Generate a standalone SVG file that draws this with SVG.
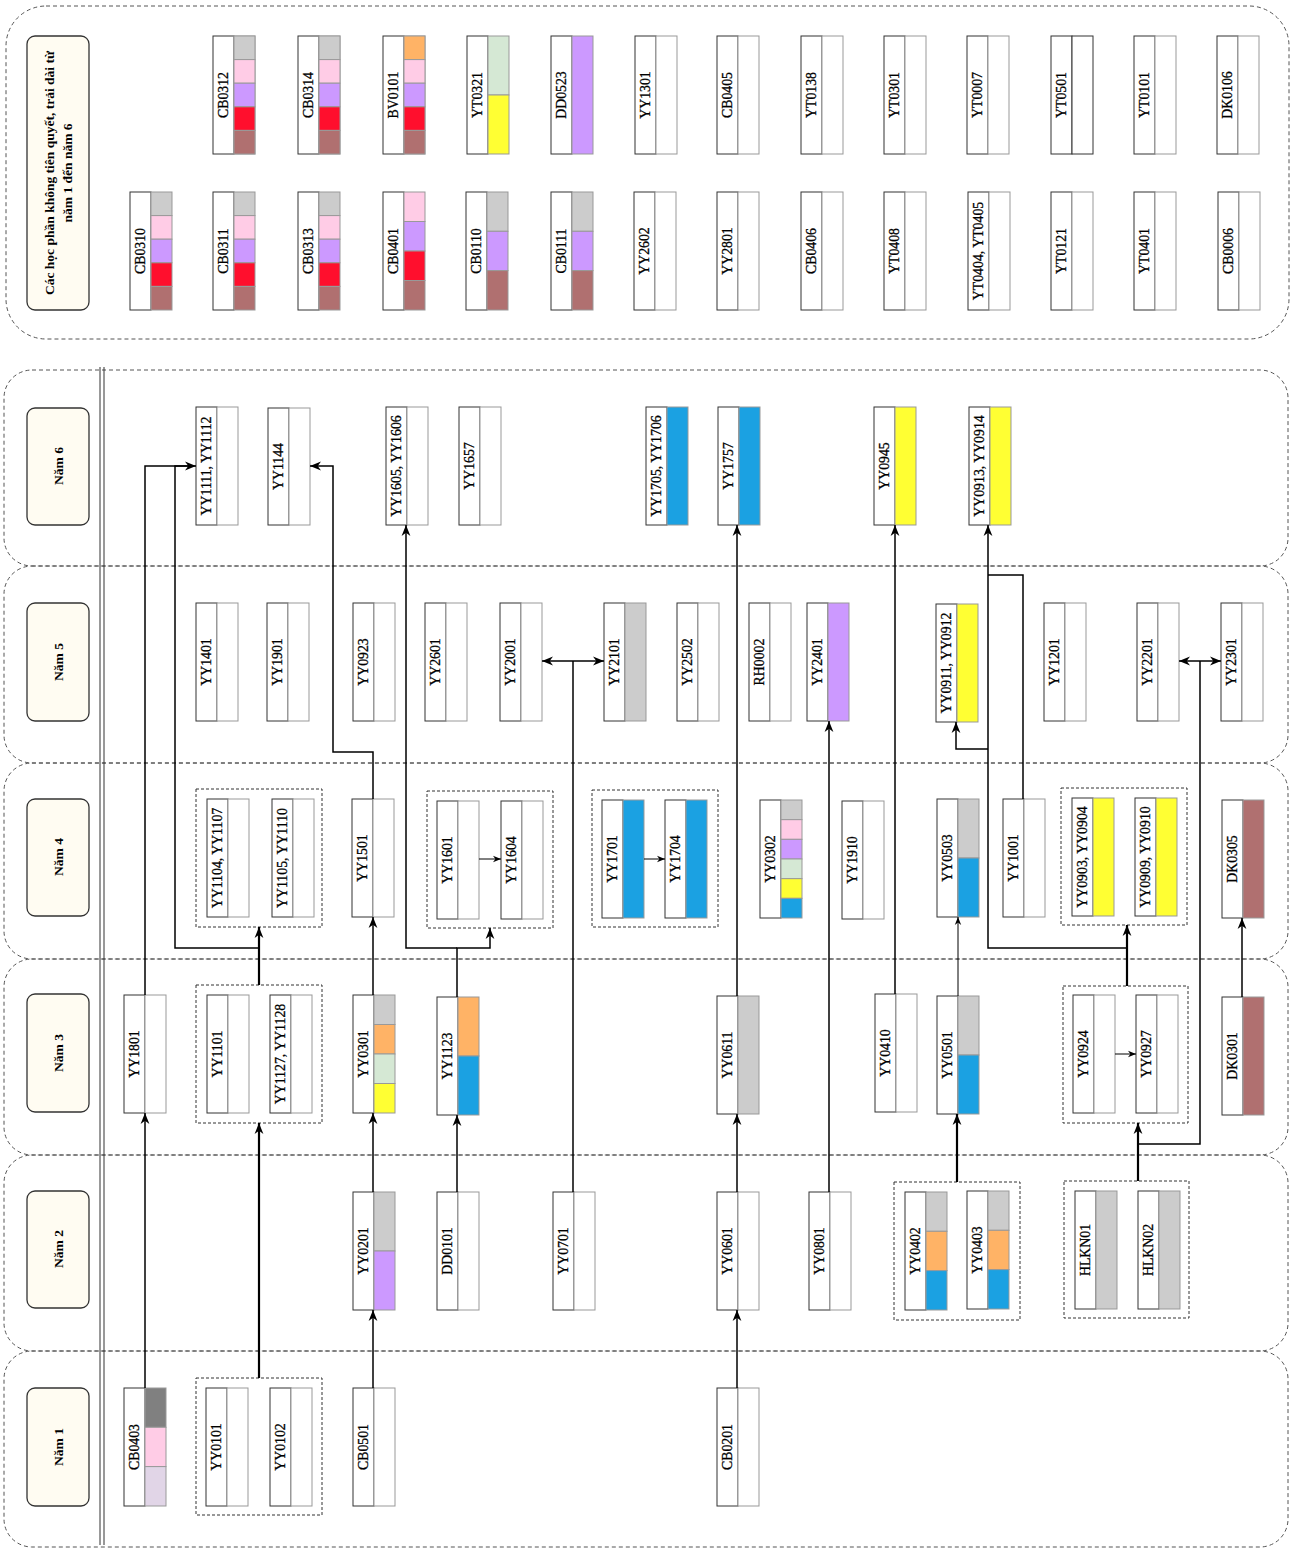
<svg xmlns="http://www.w3.org/2000/svg" width="1296" height="1552" viewBox="0 0 1296 1552">
<style>
.band{fill:none;stroke:#555;stroke-width:1;stroke-dasharray:4 3}
.grp{fill:none;stroke:#333;stroke-width:1;stroke-dasharray:3 2}
.lab{fill:#FFFCF2;stroke:#333;stroke-width:1.3}
.lt{font-family:"Liberation Serif",serif;font-size:13.5px;font-weight:bold;text-anchor:middle;dominant-baseline:central;fill:#000}
.L{fill:#fff;stroke:#333;stroke-width:1}
.R{fill:#fff;stroke:#999;stroke-width:1}
.s{stroke:#999;stroke-width:1}
.t{font-family:"Liberation Serif",serif;font-size:13.8px;text-anchor:middle;dominant-baseline:central;fill:#000;stroke:#000;stroke-width:0.3}
.g{fill:#CCCCCC}.p{fill:#FFCCE6}.u{fill:#CC99FF}.r{fill:#FF0F2D}.b{fill:#B07070}.o{fill:#FFB366}.lg{fill:#D5E8D4}.y{fill:#FFFF33}.bl{fill:#1BA1E2}.dg{fill:#808080}.lv{fill:#E1D5E7}
.c{fill:none;stroke:#000;stroke-width:1.5}
.ct{fill:none;stroke:#000;stroke-width:2.2}
.cn{fill:none;stroke:#000;stroke-width:1}
</style>
<defs>
<marker id="a" viewBox="0 0 10 10" refX="10" refY="5" markerWidth="11" markerHeight="11" markerUnits="userSpaceOnUse" orient="auto"><path d="M0,1 L10,5 L0,9 L3,5 z" fill="#000"/></marker>
<marker id="as" viewBox="0 0 10 10" refX="10" refY="5" markerWidth="8" markerHeight="8" markerUnits="userSpaceOnUse" orient="auto"><path d="M0,1 L10,5 L0,9 L3,5 z" fill="#000"/></marker>
</defs>
<rect width="1296" height="1552" fill="#fff"/>

<g id="bands">
<rect class="band" x="6" y="6" width="1283" height="333" rx="40"/>
<rect class="band" x="4" y="370" width="1284" height="196" rx="28"/>
<rect class="band" x="4" y="566" width="1284" height="197" rx="28"/>
<rect class="band" x="4" y="763" width="1284" height="196" rx="28"/>
<rect class="band" x="4" y="959" width="1284" height="196" rx="28"/>
<rect class="band" x="4" y="1155" width="1284" height="196" rx="28"/>
<rect class="band" x="4" y="1351" width="1284" height="196" rx="28"/>
<line x1="100" y1="367" x2="100" y2="1545" stroke="#333" stroke-width="1"/>
<line x1="104" y1="367" x2="104" y2="1545" stroke="#333" stroke-width="1"/>
</g>

<g id="labels">
<g id="lab-top"><rect class="lab" x="27" y="36" width="62" height="274" rx="8"/><text class="lt" transform="translate(58,173) rotate(-90)"><tspan x="0" dy="-9">Các học phần không tiên quyết, trải dài từ</tspan><tspan x="0" dy="18">năm 1 đến năm 6</tspan></text></g>
<g id="lab6"><rect class="lab" x="27" y="408" width="62" height="117" rx="8"/><text class="lt" transform="translate(58,466) rotate(-90)">Năm 6</text></g>
<g id="lab5"><rect class="lab" x="27" y="603" width="62" height="118" rx="8"/><text class="lt" transform="translate(58,662) rotate(-90)">Năm 5</text></g>
<g id="lab4"><rect class="lab" x="27" y="799" width="62" height="117" rx="8"/><text class="lt" transform="translate(58,857) rotate(-90)">Năm 4</text></g>
<g id="lab3"><rect class="lab" x="27" y="994" width="62" height="118" rx="8"/><text class="lt" transform="translate(58,1053) rotate(-90)">Năm 3</text></g>
<g id="lab2"><rect class="lab" x="27" y="1191" width="62" height="117" rx="8"/><text class="lt" transform="translate(58,1249) rotate(-90)">Năm 2</text></g>
<g id="lab1"><rect class="lab" x="27" y="1388" width="62" height="118" rx="8"/><text class="lt" transform="translate(58,1447) rotate(-90)">Năm 1</text></g>
</g>

<g id="groups">
<rect class="grp" x="196" y="789" width="126" height="138"/>
<rect class="grp" x="427" y="791" width="126" height="137"/>
<rect class="grp" x="592" y="790" width="126" height="137"/>
<rect class="grp" x="1061" y="788" width="126" height="137"/>
<rect class="grp" x="196" y="985" width="126" height="138"/>
<rect class="grp" x="1063" y="986" width="125" height="137"/>
<rect class="grp" x="894" y="1182" width="126" height="138"/>
<rect class="grp" x="1064" y="1181" width="125" height="137"/>
<rect class="grp" x="196" y="1378" width="126" height="137"/>
</g>

<g id="nodes">
<!-- top row 1 -->
<g id="CB0312" transform="translate(213,36)"><rect class="L" width="21" height="118"/><rect class="R" x="21" width="21" height="118"/><rect class="s g" x="21" y="0" width="21" height="23.6"/><rect class="s p" x="21" y="23.6" width="21" height="23.6"/><rect class="s u" x="21" y="47.2" width="21" height="23.6"/><rect class="s r" x="21" y="70.8" width="21" height="23.6"/><rect class="s b" x="21" y="94.4" width="21" height="23.6"/><text class="t" transform="translate(10.5,59) rotate(-90)">CB0312</text></g>
<g id="CB0314" transform="translate(298,36)"><rect class="L" width="21" height="118"/><rect class="R" x="21" width="21" height="118"/><rect class="s g" x="21" y="0" width="21" height="23.6"/><rect class="s p" x="21" y="23.6" width="21" height="23.6"/><rect class="s u" x="21" y="47.2" width="21" height="23.6"/><rect class="s r" x="21" y="70.8" width="21" height="23.6"/><rect class="s b" x="21" y="94.4" width="21" height="23.6"/><text class="t" transform="translate(10.5,59) rotate(-90)">CB0314</text></g>
<g id="BV0101" transform="translate(383,36)"><rect class="L" width="21" height="118"/><rect class="R" x="21" width="21" height="118"/><rect class="s o" x="21" y="0" width="21" height="23.6"/><rect class="s p" x="21" y="23.6" width="21" height="23.6"/><rect class="s u" x="21" y="47.2" width="21" height="23.6"/><rect class="s r" x="21" y="70.8" width="21" height="23.6"/><rect class="s b" x="21" y="94.4" width="21" height="23.6"/><text class="t" transform="translate(10.5,59) rotate(-90)">BV0101</text></g>
<g id="YT0321" transform="translate(467,36)"><rect class="L" width="21" height="118"/><rect class="s lg" x="21" y="0" width="21" height="59"/><rect class="s y" x="21" y="59" width="21" height="59"/><text class="t" transform="translate(10.5,59) rotate(-90)">YT0321</text></g>
<g id="DD0523" transform="translate(551,36)"><rect class="L" width="21" height="118"/><rect class="s u" x="21" width="21" height="118"/><text class="t" transform="translate(10.5,59) rotate(-90)">DD0523</text></g>
<g id="YY1301" transform="translate(635,36)"><rect class="L" width="21" height="118"/><rect class="R" x="21" width="21" height="118"/><text class="t" transform="translate(10.5,59) rotate(-90)">YY1301</text></g>
<g id="CB0405" transform="translate(717,36)"><rect class="L" width="21" height="118"/><rect class="R" x="21" width="21" height="118"/><text class="t" transform="translate(10.5,59) rotate(-90)">CB0405</text></g>
<g id="YT0138" transform="translate(801,36)"><rect class="L" width="21" height="118"/><rect class="R" x="21" width="21" height="118"/><text class="t" transform="translate(10.5,59) rotate(-90)">YT0138</text></g>
<g id="YT0301" transform="translate(884,36)"><rect class="L" width="21" height="118"/><rect class="R" x="21" width="21" height="118"/><text class="t" transform="translate(10.5,59) rotate(-90)">YT0301</text></g>
<g id="YT0007" transform="translate(967,36)"><rect class="L" width="21" height="118"/><rect class="R" x="21" width="21" height="118"/><text class="t" transform="translate(10.5,59) rotate(-90)">YT0007</text></g>
<g id="YT0501" transform="translate(1051,36)"><rect class="L" width="21" height="118"/><rect class="L" x="21" width="21" height="118"/><text class="t" transform="translate(10.5,59) rotate(-90)">YT0501</text></g>
<g id="YT0101" transform="translate(1134,36)"><rect class="L" width="21" height="118"/><rect class="R" x="21" width="21" height="118"/><text class="t" transform="translate(10.5,59) rotate(-90)">YT0101</text></g>
<g id="DK0106" transform="translate(1217,36)"><rect class="L" width="21" height="118"/><rect class="R" x="21" width="21" height="118"/><text class="t" transform="translate(10.5,59) rotate(-90)">DK0106</text></g>
<!-- top row 2 -->
<g id="CB0310" transform="translate(130,192)"><rect class="L" width="21" height="118"/><rect class="s g" x="21" y="0" width="21" height="23.6"/><rect class="s p" x="21" y="23.6" width="21" height="23.6"/><rect class="s u" x="21" y="47.2" width="21" height="23.6"/><rect class="s r" x="21" y="70.8" width="21" height="23.6"/><rect class="s b" x="21" y="94.4" width="21" height="23.6"/><text class="t" transform="translate(10.5,59) rotate(-90)">CB0310</text></g>
<g id="CB0311" transform="translate(213,192)"><rect class="L" width="21" height="118"/><rect class="s g" x="21" y="0" width="21" height="23.6"/><rect class="s p" x="21" y="23.6" width="21" height="23.6"/><rect class="s u" x="21" y="47.2" width="21" height="23.6"/><rect class="s r" x="21" y="70.8" width="21" height="23.6"/><rect class="s b" x="21" y="94.4" width="21" height="23.6"/><text class="t" transform="translate(10.5,59) rotate(-90)">CB0311</text></g>
<g id="CB0313" transform="translate(298,192)"><rect class="L" width="21" height="118"/><rect class="s g" x="21" y="0" width="21" height="23.6"/><rect class="s p" x="21" y="23.6" width="21" height="23.6"/><rect class="s u" x="21" y="47.2" width="21" height="23.6"/><rect class="s r" x="21" y="70.8" width="21" height="23.6"/><rect class="s b" x="21" y="94.4" width="21" height="23.6"/><text class="t" transform="translate(10.5,59) rotate(-90)">CB0313</text></g>
<g id="CB0401" transform="translate(383,192)"><rect class="L" width="21" height="118"/><rect class="s p" x="21" y="0" width="21" height="29.5"/><rect class="s u" x="21" y="29.5" width="21" height="29.5"/><rect class="s r" x="21" y="59" width="21" height="29.5"/><rect class="s b" x="21" y="88.5" width="21" height="29.5"/><text class="t" transform="translate(10.5,59) rotate(-90)">CB0401</text></g>
<g id="CB0110" transform="translate(466,192)"><rect class="L" width="21" height="118"/><rect class="s g" x="21" y="0" width="21" height="39.3"/><rect class="s u" x="21" y="39.3" width="21" height="39.3"/><rect class="s b" x="21" y="78.6" width="21" height="39.4"/><text class="t" transform="translate(10.5,59) rotate(-90)">CB0110</text></g>
<g id="CB0111" transform="translate(551,192)"><rect class="L" width="21" height="118"/><rect class="s g" x="21" y="0" width="21" height="39.3"/><rect class="s u" x="21" y="39.3" width="21" height="39.3"/><rect class="s b" x="21" y="78.6" width="21" height="39.4"/><text class="t" transform="translate(10.5,59) rotate(-90)">CB0111</text></g>
<g id="YY2602" transform="translate(634,192)"><rect class="L" width="21" height="118"/><rect class="R" x="21" width="21" height="118"/><text class="t" transform="translate(10.5,59) rotate(-90)">YY2602</text></g>
<g id="YY2801" transform="translate(717,192)"><rect class="L" width="21" height="118"/><rect class="R" x="21" width="21" height="118"/><text class="t" transform="translate(10.5,59) rotate(-90)">YY2801</text></g>
<g id="CB0406" transform="translate(801,192)"><rect class="L" width="21" height="118"/><rect class="R" x="21" width="21" height="118"/><text class="t" transform="translate(10.5,59) rotate(-90)">CB0406</text></g>
<g id="YT0408" transform="translate(884,192)"><rect class="L" width="21" height="118"/><rect class="R" x="21" width="21" height="118"/><text class="t" transform="translate(10.5,59) rotate(-90)">YT0408</text></g>
<g id="YT0404" transform="translate(968,192)"><rect class="L" width="21" height="118"/><rect class="R" x="21" width="21" height="118"/><text class="t" transform="translate(10.5,59) rotate(-90)">YT0404, YT0405</text></g>
<g id="YT0121" transform="translate(1051,192)"><rect class="L" width="21" height="118"/><rect class="R" x="21" width="21" height="118"/><text class="t" transform="translate(10.5,59) rotate(-90)">YT0121</text></g>
<g id="YT0401" transform="translate(1134,192)"><rect class="L" width="21" height="118"/><rect class="R" x="21" width="21" height="118"/><text class="t" transform="translate(10.5,59) rotate(-90)">YT0401</text></g>
<g id="CB0006" transform="translate(1218,192)"><rect class="L" width="21" height="118"/><rect class="R" x="21" width="21" height="118"/><text class="t" transform="translate(10.5,59) rotate(-90)">CB0006</text></g>

<!-- Nam 6 -->
<g id="YY1111" transform="translate(196,407)"><rect class="L" width="21" height="118"/><rect class="R" x="21" width="21" height="118"/><text class="t" transform="translate(10.5,59) rotate(-90)">YY1111, YY1112</text></g>
<g id="YY1144" transform="translate(268,408)"><rect class="L" width="21" height="117"/><rect class="R" x="21" width="21" height="117"/><text class="t" transform="translate(10.5,58.5) rotate(-90)">YY1144</text></g>
<g id="YY1605" transform="translate(386,407)"><rect class="L" width="21" height="118"/><rect class="R" x="21" width="21" height="118"/><text class="t" transform="translate(10.5,59) rotate(-90)">YY1605, YY1606</text></g>
<g id="YY1657" transform="translate(459,407)"><rect class="L" width="21" height="118"/><rect class="R" x="21" width="21" height="118"/><text class="t" transform="translate(10.5,59) rotate(-90)">YY1657</text></g>
<g id="YY1705" transform="translate(646,407)"><rect class="L" width="21" height="118"/><rect class="s bl" x="21" width="21" height="118"/><text class="t" transform="translate(10.5,59) rotate(-90)">YY1705, YY1706</text></g>
<g id="YY1757" transform="translate(718,407)"><rect class="L" width="21" height="118"/><rect class="s bl" x="21" width="21" height="118"/><text class="t" transform="translate(10.5,59) rotate(-90)">YY1757</text></g>
<g id="YY0945" transform="translate(874,407)"><rect class="L" width="21" height="118"/><rect class="s y" x="21" width="21" height="118"/><text class="t" transform="translate(10.5,59) rotate(-90)">YY0945</text></g>
<g id="YY0913" transform="translate(969,407)"><rect class="L" width="21" height="118"/><rect class="s y" x="21" width="21" height="118"/><text class="t" transform="translate(10.5,59) rotate(-90)">YY0913, YY0914</text></g>

<!-- Nam 5 -->
<g id="YY1401" transform="translate(196,603)"><rect class="L" width="21" height="118"/><rect class="R" x="21" width="21" height="118"/><text class="t" transform="translate(10.5,59) rotate(-90)">YY1401</text></g>
<g id="YY1901" transform="translate(267,603)"><rect class="L" width="21" height="118"/><rect class="R" x="21" width="21" height="118"/><text class="t" transform="translate(10.5,59) rotate(-90)">YY1901</text></g>
<g id="YY0923" transform="translate(353,603)"><rect class="L" width="21" height="118"/><rect class="R" x="21" width="21" height="118"/><text class="t" transform="translate(10.5,59) rotate(-90)">YY0923</text></g>
<g id="YY2601" transform="translate(425,603)"><rect class="L" width="21" height="118"/><rect class="R" x="21" width="21" height="118"/><text class="t" transform="translate(10.5,59) rotate(-90)">YY2601</text></g>
<g id="YY2001" transform="translate(500,603)"><rect class="L" width="21" height="118"/><rect class="R" x="21" width="21" height="118"/><text class="t" transform="translate(10.5,59) rotate(-90)">YY2001</text></g>
<g id="YY2101" transform="translate(604,603)"><rect class="L" width="21" height="118"/><rect class="s g" x="21" width="21" height="118"/><text class="t" transform="translate(10.5,59) rotate(-90)">YY2101</text></g>
<g id="YY2502" transform="translate(677,603)"><rect class="L" width="21" height="118"/><rect class="R" x="21" width="21" height="118"/><text class="t" transform="translate(10.5,59) rotate(-90)">YY2502</text></g>
<g id="RH0002" transform="translate(749,603)"><rect class="L" width="21" height="118"/><rect class="R" x="21" width="21" height="118"/><text class="t" transform="translate(10.5,59) rotate(-90)">RH0002</text></g>
<g id="YY2401" transform="translate(807,603)"><rect class="L" width="21" height="118"/><rect class="s u" x="21" width="21" height="118"/><text class="t" transform="translate(10.5,59) rotate(-90)">YY2401</text></g>
<g id="YY0911" transform="translate(936,604)"><rect class="L" width="21" height="118"/><rect class="s y" x="21" width="21" height="118"/><text class="t" transform="translate(10.5,59) rotate(-90)">YY0911, YY0912</text></g>
<g id="YY1201" transform="translate(1044,603)"><rect class="L" width="21" height="118"/><rect class="R" x="21" width="21" height="118"/><text class="t" transform="translate(10.5,59) rotate(-90)">YY1201</text></g>
<g id="YY2201" transform="translate(1137,603)"><rect class="L" width="21" height="118"/><rect class="R" x="21" width="21" height="118"/><text class="t" transform="translate(10.5,59) rotate(-90)">YY2201</text></g>
<g id="YY2301" transform="translate(1221,603)"><rect class="L" width="21" height="118"/><rect class="R" x="21" width="21" height="118"/><text class="t" transform="translate(10.5,59) rotate(-90)">YY2301</text></g>

<!-- Nam 4 -->
<g id="YY1104" transform="translate(207,799)"><rect class="L" width="21" height="118"/><rect class="R" x="21" width="21" height="118"/><text class="t" transform="translate(10.5,59) rotate(-90)">YY1104, YY1107</text></g>
<g id="YY1105" transform="translate(272,799)"><rect class="L" width="21" height="118"/><rect class="R" x="21" width="21" height="118"/><text class="t" transform="translate(10.5,59) rotate(-90)">YY1105, YY1110</text></g>
<g id="YY1501" transform="translate(352,799)"><rect class="L" width="21" height="118"/><rect class="R" x="21" width="21" height="118"/><text class="t" transform="translate(10.5,59) rotate(-90)">YY1501</text></g>
<g id="YY1601" transform="translate(437,801)"><rect class="L" width="21" height="118"/><rect class="R" x="21" width="21" height="118"/><text class="t" transform="translate(10.5,59) rotate(-90)">YY1601</text></g>
<g id="YY1604" transform="translate(501,801)"><rect class="L" width="21" height="118"/><rect class="R" x="21" width="21" height="118"/><text class="t" transform="translate(10.5,59) rotate(-90)">YY1604</text></g>
<g id="YY1701" transform="translate(602,800)"><rect class="L" width="21" height="118"/><rect class="s bl" x="21" width="21" height="118"/><text class="t" transform="translate(10.5,59) rotate(-90)">YY1701</text></g>
<g id="YY1704" transform="translate(665,800)"><rect class="L" width="21" height="118"/><rect class="s bl" x="21" width="21" height="118"/><text class="t" transform="translate(10.5,59) rotate(-90)">YY1704</text></g>
<g id="YY0302" transform="translate(760,800)"><rect class="L" width="21" height="118"/><rect class="s g" x="21" y="0" width="21" height="19.67"/><rect class="s p" x="21" y="19.67" width="21" height="19.67"/><rect class="s u" x="21" y="39.33" width="21" height="19.67"/><rect class="s lg" x="21" y="59" width="21" height="19.67"/><rect class="s y" x="21" y="78.67" width="21" height="19.67"/><rect class="s bl" x="21" y="98.33" width="21" height="19.67"/><text class="t" transform="translate(10.5,59) rotate(-90)">YY0302</text></g>
<g id="YY1910" transform="translate(842,801)"><rect class="L" width="21" height="118"/><rect class="R" x="21" width="21" height="118"/><text class="t" transform="translate(10.5,59) rotate(-90)">YY1910</text></g>
<g id="YY0503" transform="translate(937,799)"><rect class="L" width="21" height="118"/><rect class="s g" x="21" y="0" width="21" height="59"/><rect class="s bl" x="21" y="59" width="21" height="59"/><text class="t" transform="translate(10.5,59) rotate(-90)">YY0503</text></g>
<g id="YY1001" transform="translate(1003,799)"><rect class="L" width="21" height="118"/><rect class="R" x="21" width="21" height="118"/><text class="t" transform="translate(10.5,59) rotate(-90)">YY1001</text></g>
<g id="YY0903" transform="translate(1072,798)"><rect class="L" width="21" height="118"/><rect class="s y" x="21" width="21" height="118"/><text class="t" transform="translate(10.5,59) rotate(-90)">YY0903, YY0904</text></g>
<g id="YY0909" transform="translate(1135,798)"><rect class="L" width="21" height="118"/><rect class="s y" x="21" width="21" height="118"/><text class="t" transform="translate(10.5,59) rotate(-90)">YY0909, YY0910</text></g>
<g id="DK0305" transform="translate(1222,800)"><rect class="L" width="21" height="118"/><rect class="s b" x="21" width="21" height="118"/><text class="t" transform="translate(10.5,59) rotate(-90)">DK0305</text></g>

<!-- Nam 3 -->
<g id="YY1801" transform="translate(124,995)"><rect class="L" width="21" height="118"/><rect class="R" x="21" width="21" height="118"/><text class="t" transform="translate(10.5,59) rotate(-90)">YY1801</text></g>
<g id="YY1101" transform="translate(207,995)"><rect class="L" width="21" height="118"/><rect class="R" x="21" width="21" height="118"/><text class="t" transform="translate(10.5,59) rotate(-90)">YY1101</text></g>
<g id="YY1127" transform="translate(270,995)"><rect class="L" width="21" height="118"/><rect class="R" x="21" width="21" height="118"/><text class="t" transform="translate(10.5,59) rotate(-90)">YY1127, YY1128</text></g>
<g id="YY0301" transform="translate(353,995)"><rect class="L" width="21" height="118"/><rect class="s g" x="21" y="0" width="21" height="29.5"/><rect class="s o" x="21" y="29.5" width="21" height="29.5"/><rect class="s lg" x="21" y="59" width="21" height="29.5"/><rect class="s y" x="21" y="88.5" width="21" height="29.5"/><text class="t" transform="translate(10.5,59) rotate(-90)">YY0301</text></g>
<g id="YY1123" transform="translate(437,997)"><rect class="L" width="21" height="118"/><rect class="s o" x="21" y="0" width="21" height="59"/><rect class="s bl" x="21" y="59" width="21" height="59"/><text class="t" transform="translate(10.5,59) rotate(-90)">YY1123</text></g>
<g id="YY0611" transform="translate(717,996)"><rect class="L" width="21" height="118"/><rect class="s g" x="21" width="21" height="118"/><text class="t" transform="translate(10.5,59) rotate(-90)">YY0611</text></g>
<g id="YY0410" transform="translate(875,994)"><rect class="L" width="21" height="118"/><rect class="R" x="21" width="21" height="118"/><text class="t" transform="translate(10.5,59) rotate(-90)">YY0410</text></g>
<g id="YY0501" transform="translate(937,996)"><rect class="L" width="21" height="118"/><rect class="s g" x="21" y="0" width="21" height="59"/><rect class="s bl" x="21" y="59" width="21" height="59"/><text class="t" transform="translate(10.5,59) rotate(-90)">YY0501</text></g>
<g id="YY0924" transform="translate(1073,995)"><rect class="L" width="21" height="118"/><rect class="R" x="21" width="21" height="118"/><text class="t" transform="translate(10.5,59) rotate(-90)">YY0924</text></g>
<g id="YY0927" transform="translate(1136,995)"><rect class="L" width="21" height="118"/><rect class="R" x="21" width="21" height="118"/><text class="t" transform="translate(10.5,59) rotate(-90)">YY0927</text></g>
<g id="DK0301" transform="translate(1222,997)"><rect class="L" width="21" height="118"/><rect class="s b" x="21" width="21" height="118"/><text class="t" transform="translate(10.5,59) rotate(-90)">DK0301</text></g>

<!-- Nam 2 -->
<g id="YY0201" transform="translate(353,1192)"><rect class="L" width="21" height="118"/><rect class="s g" x="21" y="0" width="21" height="59"/><rect class="s u" x="21" y="59" width="21" height="59"/><text class="t" transform="translate(10.5,59) rotate(-90)">YY0201</text></g>
<g id="DD0101" transform="translate(437,1192)"><rect class="L" width="21" height="118"/><rect class="R" x="21" width="21" height="118"/><text class="t" transform="translate(10.5,59) rotate(-90)">DD0101</text></g>
<g id="YY0701" transform="translate(553,1192)"><rect class="L" width="21" height="118"/><rect class="R" x="21" width="21" height="118"/><text class="t" transform="translate(10.5,59) rotate(-90)">YY0701</text></g>
<g id="YY0601" transform="translate(717,1192)"><rect class="L" width="21" height="118"/><rect class="R" x="21" width="21" height="118"/><text class="t" transform="translate(10.5,59) rotate(-90)">YY0601</text></g>
<g id="YY0801" transform="translate(809,1192)"><rect class="L" width="21" height="118"/><rect class="R" x="21" width="21" height="118"/><text class="t" transform="translate(10.5,59) rotate(-90)">YY0801</text></g>
<g id="YY0402" transform="translate(905,1192)"><rect class="L" width="21" height="118"/><rect class="s g" x="21" y="0" width="21" height="39.3"/><rect class="s o" x="21" y="39.3" width="21" height="39.3"/><rect class="s bl" x="21" y="78.6" width="21" height="39.4"/><text class="t" transform="translate(10.5,59) rotate(-90)">YY0402</text></g>
<g id="YY0403" transform="translate(967,1191)"><rect class="L" width="21" height="118"/><rect class="s g" x="21" y="0" width="21" height="39.3"/><rect class="s o" x="21" y="39.3" width="21" height="39.3"/><rect class="s bl" x="21" y="78.6" width="21" height="39.4"/><text class="t" transform="translate(10.5,59) rotate(-90)">YY0403</text></g>
<g id="HLKN01" transform="translate(1075,1191)"><rect class="L" width="21" height="118"/><rect class="s g" x="21" width="21" height="118"/><text class="t" transform="translate(10.5,59) rotate(-90)">HLKN01</text></g>
<g id="HLKN02" transform="translate(1138,1191)"><rect class="L" width="21" height="118"/><rect class="s g" x="21" width="21" height="118"/><text class="t" transform="translate(10.5,59) rotate(-90)">HLKN02</text></g>

<!-- Nam 1 -->
<g id="CB0403" transform="translate(124,1388)"><rect class="L" width="21" height="118"/><rect class="s dg" x="21" y="0" width="21" height="39.3"/><rect class="s p" x="21" y="39.3" width="21" height="39.3"/><rect class="s lv" x="21" y="78.6" width="21" height="39.4"/><text class="t" transform="translate(10.5,59) rotate(-90)">CB0403</text></g>
<g id="YY0101" transform="translate(206,1388)"><rect class="L" width="21" height="118"/><rect class="R" x="21" width="21" height="118"/><text class="t" transform="translate(10.5,59) rotate(-90)">YY0101</text></g>
<g id="YY0102" transform="translate(270,1388)"><rect class="L" width="21" height="118"/><rect class="R" x="21" width="21" height="118"/><text class="t" transform="translate(10.5,59) rotate(-90)">YY0102</text></g>
<g id="CB0501" transform="translate(353,1388)"><rect class="L" width="21" height="118"/><rect class="R" x="21" width="21" height="118"/><text class="t" transform="translate(10.5,59) rotate(-90)">CB0501</text></g>
<g id="CB0201" transform="translate(717,1388)"><rect class="L" width="21" height="118"/><rect class="R" x="21" width="21" height="118"/><text class="t" transform="translate(10.5,59) rotate(-90)">CB0201</text></g>
</g>

<g id="connectors">
<path class="c" d="M145,1388 V1113" marker-end="url(#a)"/>
<path class="c" d="M145,995 V466 H196" marker-end="url(#a)"/>
<path class="ct" d="M259,1378 V1123" marker-end="url(#a)"/>
<path class="ct" d="M259,985 V927" marker-end="url(#a)"/>
<path class="c" d="M259,948 H175 V466 H190"/>
<path class="c" d="M373,1388 V1310" marker-end="url(#a)"/>
<path class="c" d="M373,1192 V1113" marker-end="url(#a)"/>
<path class="c" d="M373,995 V917" marker-end="url(#a)"/>
<path class="c" d="M373,799 V752 H333 V466 H310" marker-end="url(#a)"/>
<path class="c" d="M457,1192 V1115" marker-end="url(#a)"/>
<path class="c" d="M457,997 V948 H490 V928" marker-end="url(#a)"/>
<path class="c" d="M457,948 H406 V525" marker-end="url(#a)"/>
<path class="c" d="M573,1192 V661"/>
<path class="c" d="M573,661 H542" marker-end="url(#a)"/>
<path class="c" d="M573,661 H604" marker-end="url(#a)"/>
<path class="c" d="M737,1388 V1310" marker-end="url(#a)"/>
<path class="c" d="M737,1192 V1114" marker-end="url(#a)"/>
<path class="c" d="M737,996 V525" marker-end="url(#a)"/>
<path class="c" d="M829,1192 V721" marker-end="url(#a)"/>
<path class="c" d="M895,994 V525" marker-end="url(#a)"/>
<path class="ct" d="M957,1182 V1114" marker-end="url(#a)"/>
<path class="cn" d="M958,996 V917" marker-end="url(#as)"/>
<path class="ct" d="M1127,986 V925" marker-end="url(#a)"/>
<path class="c" d="M1127,948 H988 V525" marker-end="url(#a)"/>
<path class="c" d="M988,749 H956 V722" marker-end="url(#a)"/>
<path class="c" d="M1023,799 V575 H988"/>
<path class="ct" d="M1138,1181 V1123" marker-end="url(#a)"/>
<path class="c" d="M1138,1144 H1200 V661"/>
<path class="c" d="M1200,661 H1179" marker-end="url(#a)"/>
<path class="c" d="M1200,661 H1221" marker-end="url(#a)"/>
<path class="c" d="M1242,997 V918" marker-end="url(#a)"/>
<path class="cn" d="M479,859 H501" marker-end="url(#as)"/>
<path class="cn" d="M644,859 H665" marker-end="url(#as)"/>
<path class="cn" d="M1115,1054 H1136" marker-end="url(#as)"/>
</g>
</svg>
